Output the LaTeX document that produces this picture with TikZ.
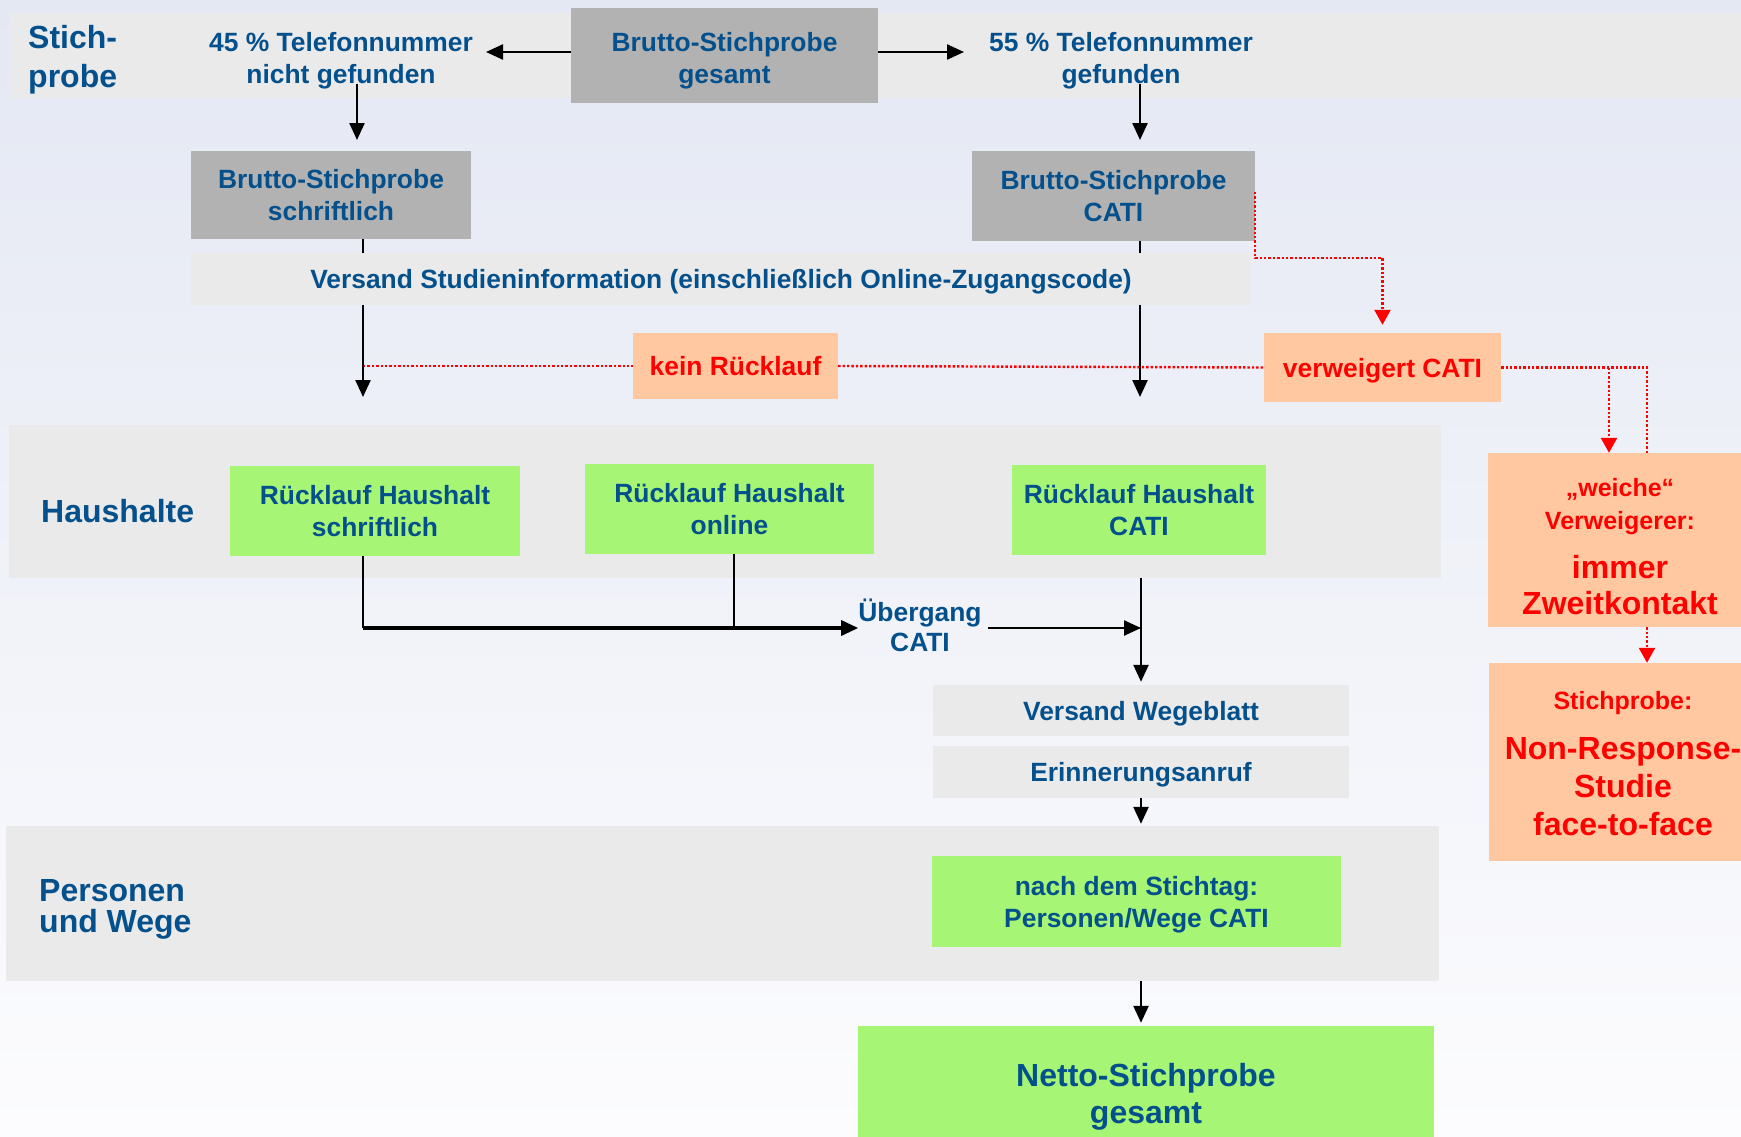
\documentclass[tikz,border=0pt]{standalone}
\usepackage{fontspec}
\setmainfont{Liberation Sans}
\usetikzlibrary{arrows.meta}
\definecolor{tblue}{RGB}{4,80,140}
\definecolor{bandgray}{RGB}{234,234,234}
\definecolor{boxgray}{RGB}{178,178,178}
\definecolor{lgreen}{RGB}{166,245,116}
\definecolor{peach}{RGB}{255,200,160}
\definecolor{bgtop}{RGB}{228,232,243}
\definecolor{bgmid}{RGB}{240,242,248}
\definecolor{bgbot}{RGB}{252,252,254}
\newcommand\myfs[2]{\fontsize{#1}{#2}\selectfont\bfseries}
\begin{document}
\begin{tikzpicture}[x=1pt,y=-1pt,
  sz/.style 2 args={minimum width=#1pt, minimum height=#2pt},
  every node/.style={text depth=0pt},
  txt/.style={text=tblue, align=center, inner sep=0pt, font=\myfs{26.4}{32}},
  redtxt/.style={text=red, align=center, inner sep=0pt},
  sect/.style={text=tblue, align=left, inner sep=0pt, anchor=west},
  band/.style={txt, fill=bandgray},
  graybox/.style={txt, fill=boxgray},
  greenbox/.style={txt, fill=lgreen},
  peachbox/.style={fill=peach, inner sep=0pt, align=center, text=red, font=\myfs{26.4}{32}},
  blk/.style={draw=black, line width=2.4pt},
  arr/.style={blk, -{Triangle[length=17pt,width=15pt]}},
  rdot/.style={draw=red, line width=2.4pt, dash pattern=on 2.4pt off 2pt},
  rarr/.style={rdot, -{Triangle[length=15pt,width=16pt]}},
]
\useasboundingbox (0,0) rectangle (1741,1136);
\clip (0,0) rectangle (1741,1136);
\shade[top color=bgtop, middle color=bgmid, bottom color=bgbot] (0,0) rectangle (1741,1136);

% bands and boxes
\node[band, sz={1745}{85}] (sband) at (881.5,55.5) {};
\node[graybox, sz={307}{95}, text height=57pt] (gesamt) at (724.5,55) {Brutto-Stichprobe\\gesamt};
\node[sect, font=\myfs{32}{39}] (stlbl) at (28,56) {Stich-\\probe};
\node[txt] (t45) at (341,58) {45 \% Telefonnummer\\nicht gefunden};
\node[txt] (t55) at (1121,58) {55 \% Telefonnummer\\gefunden};

\node[graybox, sz={280}{88}] (bs) at (331,195) {Brutto-Stichprobe\\schriftlich};
\node[graybox, sz={283}{90}] (bc) at (1113.5,196) {Brutto-Stichprobe\\CATI};
\node[band, sz={1060}{52}] (vband) at (721,279) {Versand Studieninformation (einschließlich Online-Zugangscode)};
\node[peachbox, sz={205}{66}] (kein) at (735.5,366) {kein Rücklauf};
\node[peachbox, sz={237}{69}] (verw) at (1382.5,367.5) {verweigert CATI};

\node[band, sz={1432}{153}] (hband) at (725,501.5) {};
\node[sect, font=\myfs{32}{39}] (hlbl) at (41,511) {Haushalte};
\node[greenbox, sz={290}{90}] (rs) at (375,511) {Rücklauf Haushalt\\schriftlich};
\node[greenbox, sz={289}{90}] (ro) at (729.5,509) {Rücklauf Haushalt\\online};
\node[greenbox, sz={254}{90}] (rc) at (1139,510) {Rücklauf Haushalt\\CATI};
\node[txt, font=\myfs{26.4}{30}] (ub) at (920,625) {Übergang\\CATI};

\node[band, sz={416}{51}] (vw) at (1141,710.5) {Versand Wegeblatt};
\node[band, sz={416}{52}] (er) at (1141,772) {Erinnerungsanruf};

\node[band, sz={1433}{155}] (pband) at (722.5,903.5) {};
\node[sect, font=\myfs{32}{31}] (plbl) at (39,906) {Personen\\und Wege};
\node[greenbox, sz={409}{91}] (ns) at (1136.5,901.5) {nach dem Stichtag:\\Personen/Wege CATI};
\node[greenbox, sz={576}{134}, font=\myfs{32}{37}] (netto) at (1146,1093) {Netto-Stichprobe\\gesamt};

\node[peachbox, sz={264}{174}] (weiche) at (1620,540) {};
\node[redtxt, font=\myfs{25}{33}] (w1) at (1620,503.5) {„weiche“\\Verweigerer:};
\node[redtxt, font=\myfs{32}{36}] (w2) at (1620,585) {immer\\Zweitkontakt};
\node[peachbox, sz={268}{198}] (stp) at (1623,762) {};
\node[redtxt, font=\myfs{25}{33}] (s1) at (1623,700) {Stichprobe:};
\node[redtxt, font=\myfs{32}{38}] (s2) at (1623,786) {Non-Response-\\Studie\\face-to-face};

% helper coordinates
\coordinate (a45) at (486,52);
\coordinate (a55) at (964,52);
\coordinate (d45) at (357,140);
\coordinate (d55) at (1140,140);
\coordinate (xL) at (363,0);
\coordinate (xR) at (1140,0);
\coordinate (xO) at (734,0);
\coordinate (xC) at (1141,0);
\coordinate (yH) at (0,628);
\coordinate (tipL) at (363,397);
\coordinate (tipR) at (1140,397);
\coordinate (xw1) at (1609,0);
\coordinate (xw2) at (1647,0);
\coordinate (ybend) at (0,258);

% red dotted connectors
\draw[rdot] (tipL |- kein.west) -- (kein.west);
\draw[rdot] (kein.east) -- (verw.west);
\draw[rdot] (verw.east) -| (weiche.north -| xw2);
\draw[rarr] (verw.east -| xw1) -- (weiche.north -| xw1);
\draw[rarr, shorten >=8pt] ([yshift=4pt]bc.east) |- (verw.north |- ybend) -- (verw.north);
\draw[rarr] (weiche.south -| xw2) -- (stp.north -| xw2);

% black connectors
\draw[arr] (gesamt.west |- a45) -- (a45);
\draw[arr] (gesamt.east |- a55) -- (a55);
\draw[arr] (d45 |- t45.south) -- (d45);
\draw[arr] (d55 |- t55.south) -- (d55);
\draw[blk] (bs.south -| xL) -- (vband.north -| xL);
\draw[arr] (vband.south -| xL) -- (tipL);
\draw[blk] (bc.south -| xR) -- (vband.north -| xR);
\draw[arr] (vband.south -| xR) -- (tipR);
\draw[blk] (rs.south -| xL) -- (xL |- yH);
\draw[blk] (ro.south -| xO) -- (xO |- yH);
\draw[arr, line width=3.2pt] (xL |- yH) -- (ub.west |- yH);
\draw[arr, shorten <=6pt] (ub.east |- yH) -- (xC |- yH);
\draw[arr, shorten >=3pt] (hband.south -| xC) -- (vw.north);
\draw[arr, shorten >=2pt] (er.south) -- (pband.north -| er.south);
\draw[arr, shorten >=3pt] (pband.south -| xC) -- (netto.north -| xC);
\end{tikzpicture}
\end{document}
